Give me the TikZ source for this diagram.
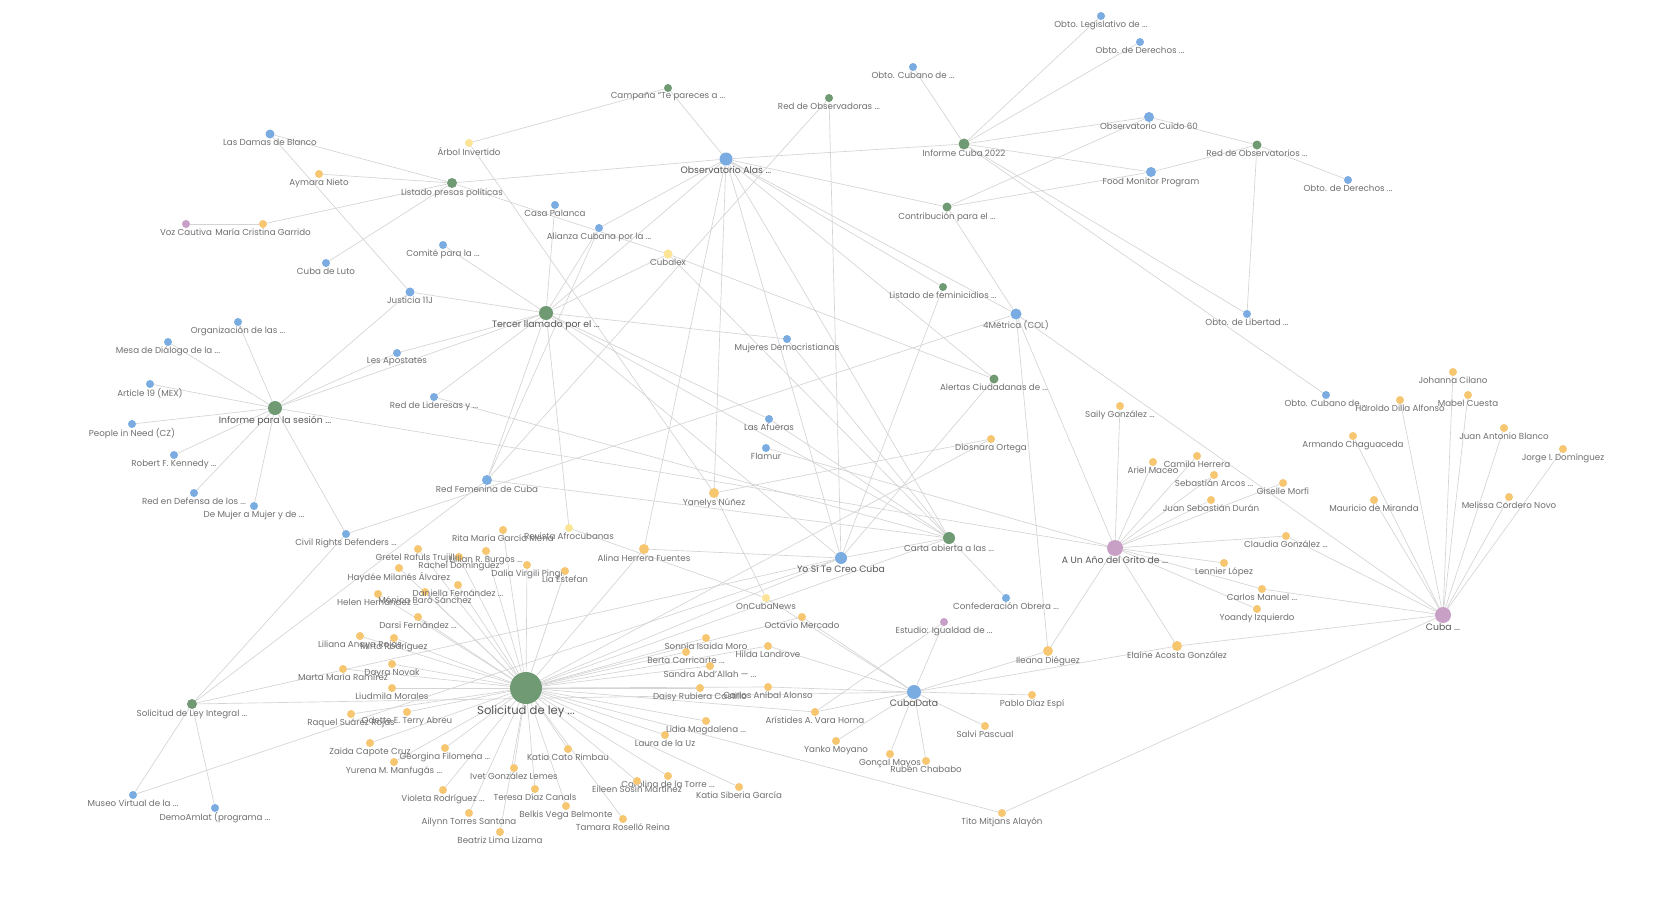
\documentclass[tikz,border=0pt]{standalone}
\usepackage{fontspec}
\setmainfont{Poppins}
\usetikzlibrary{backgrounds}
\definecolor{cblue}{RGB}{122,172,226}
\definecolor{cgreen}{RGB}{112,154,116}
\definecolor{corange}{RGB}{247,198,112}
\definecolor{cyellow}{RGB}{251,228,150}
\definecolor{cpurple}{RGB}{200,160,198}
\definecolor{cedge}{RGB}{212,212,212}
\definecolor{labc}{RGB}{112,112,112}
\definecolor{hlabc}{RGB}{88,88,88}
\newcommand\mynd[6]{\node[#4,minimum size=#5pt,label={[lab]below:{#6}}] (#1) at (#2,#3) {};}
\newcommand\myhub[6]{\node[#4,minimum size=#5pt,label={[hlab]below:{#6}}] (#1) at (#2,#3) {};}
\begin{document}
\begin{tikzpicture}[x=1pt,y=-1pt,
  dot/.style={circle,inner sep=0pt,draw=none},
  bl/.style={dot,fill=cblue}, gr/.style={dot,fill=cgreen}, orn/.style={dot,fill=corange},
  ye/.style={dot,fill=cyellow}, pu/.style={dot,fill=cpurple},
  lab/.style={font=\fontsize{8.7}{9}\selectfont,text=labc,inner sep=0.3pt},
  hlab/.style={font=\fontsize{9.3}{10}\selectfont,text=hlabc,inner sep=0.5pt},
  slab/.style={font=\fontsize{11.6}{12}\selectfont,text=hlabc,inner sep=1pt},
  label distance=0pt,
  edge/.style={draw=cedge,line width=0.65pt}]
\useasboundingbox (0,0) rectangle (1666,907);
% ---------------- top
\mynd{obleg}{1101}{16}{bl}{8}{Obto. Legislativo de ...}
\mynd{obdera}{1140}{42}{bl}{8}{Obto. de Derechos ...}
\mynd{obcuba}{913}{67}{bl}{8}{Obto. Cubano de ...}
\mynd{campana}{668}{88}{gr}{8}{Campaña “Te pareces a ...}
\mynd{redobsd}{829}{98}{gr}{8}{Red de Observadoras ...}
\mynd{arbol}{469}{143}{ye}{8}{Árbol Invertido}
\myhub{alas}{726}{159}{bl}{13}{Observatorio Alas ...}
\mynd{informe}{964}{144}{gr}{11}{Informe Cuba 2022}
\mynd{cuido}{1149}{117}{bl}{10}{Observatorio Cuido 60}
\mynd{redobst}{1257}{145}{gr}{9}{Red de Observatorios ...}
\mynd{food}{1151}{172}{bl}{10}{Food Monitor Program}
\mynd{obderb}{1348}{180}{bl}{8}{Obto. de Derechos ...}
\mynd{contrib}{947}{207}{gr}{9}{Contribución para el ...}
\mynd{damas}{270}{134}{bl}{9}{Las Damas de Blanco}
\mynd{aymara}{319}{174}{orn}{8}{Aymara Nieto}
\mynd{listado}{452}{183}{gr}{10}{Listado presas políticas}
\mynd{voz}{186}{224}{pu}{8}{Voz Cautiva}
\mynd{mcg}{263}{224}{orn}{8}{María Cristina Garrido}
\mynd{casa}{555}{205}{bl}{8}{Casa Palanca}
\mynd{alianza}{599}{228}{bl}{8}{Alianza Cubana por la ...}
\mynd{cubalex}{668}{254}{ye}{9}{Cubalex}
\mynd{comite}{443}{245}{bl}{8}{Comité para la ...}
\mynd{cubaluto}{326}{263}{bl}{8}{Cuba de Luto}
\mynd{justicia}{410}{292}{bl}{9}{Justicia 11J}
\mynd{femin}{943}{287}{gr}{8}{Listado de feminicidios ...}
\myhub{tercer}{546}{313}{gr}{14}{Tercer llamado por el ...}
\mynd{metrica}{1016}{314}{bl}{11}{4Métrica (COL)}
\mynd{oblib}{1247}{314}{bl}{8}{Obto. de Libertad ...}
% ---------------- middle left
\mynd{org}{238}{322}{bl}{8}{Organización de las ...}
\mynd{mesa}{168}{342}{bl}{8}{Mesa de Diálogo de la ...}
\mynd{apostates}{397}{353}{bl}{8}{Les Apostates}
\mynd{mujeres}{787}{339}{bl}{8}{Mujeres Democristianas}
\mynd{alertas}{994}{379}{gr}{9}{Alertas Ciudadanas de ...}
\mynd{art19}{150}{384}{bl}{8}{Article 19 (MEX)}
\myhub{ips}{275}{408}{gr}{14}{Informe para la sesión ...}
\mynd{lideresas}{434}{397}{bl}{8}{Red de Lideresas y ...}
\mynd{pin}{132}{424}{bl}{8}{People in Need (CZ)}
\mynd{rfk}{174}{455}{bl}{8}{Robert F. Kennedy ...}
\mynd{redef}{194}{493}{bl}{8}{Red en Defensa de los ...}
\mynd{demujer}{254}{506}{bl}{8}{De Mujer a Mujer y de ...}
\mynd{crd}{346}{534}{bl}{8}{Civil Rights Defenders ...}
\mynd{afueras}{769}{419}{bl}{8}{Las Afueras}
\mynd{flamur}{766}{448}{bl}{8}{Flamur}
\mynd{redfem}{487}{480}{bl}{10}{Red Femenina de Cuba}
\mynd{yanelys}{714}{493}{orn}{10}{Yanelys Núñez}
% ---------------- middle right
\mynd{diosnara}{991}{439}{orn}{8}{Diosnara Ortega}
\mynd{saily}{1120}{406}{orn}{8}{Saily González ...}
\mynd{obcubb}{1326}{395}{bl}{8}{Obto. Cubano de ...}
\mynd{johanna}{1453}{372}{orn}{8}{Johanna Cilano}
\mynd{haroldo}{1400}{400}{orn}{8}{Haroldo Dilla Alfonso}
\mynd{mabel}{1468}{395}{orn}{8}{Mabel Cuesta}
\mynd{armando}{1353}{436}{orn}{8}{Armando Chaguaceda}
\mynd{jab}{1504}{428}{orn}{8}{Juan Antonio Blanco}
\mynd{jorge}{1563}{449}{orn}{8}{Jorge I. Domínguez}
\mynd{ariel}{1153}{462}{orn}{8}{Ariel Maceo}
\mynd{camila}{1197}{456}{orn}{8}{Camila Herrera}
\mynd{sebastian}{1214}{475}{orn}{8}{Sebastián Arcos ...}
\mynd{jsd}{1211}{500}{orn}{8}{Juan Sebastián Durán}
\mynd{giselle}{1283}{483}{orn}{8}{Giselle Morfi}
\mynd{mauricio}{1374}{500}{orn}{8}{Mauricio de Miranda}
\mynd{melissa}{1509}{497}{orn}{8}{Melissa Cordero Novo}
\mynd{claudia}{1286}{536}{orn}{8}{Claudia González ...}
\mynd{carta}{949}{538}{gr}{12}{Carta abierta a las ...}
\myhub{yosi}{841}{558}{bl}{12}{Yo Sí Te Creo Cuba}
\myhub{grito}{1115}{548}{pu}{16}{A Un Año del Grito de ...}
\mynd{lennier}{1224}{563}{orn}{8}{Lennier López}
\mynd{carlosm}{1262}{589}{orn}{8}{Carlos Manuel ...}
\mynd{yoandy}{1257}{609}{orn}{8}{Yoandy Izquierdo}
\myhub{cuba}{1443}{615}{pu}{16}{Cuba ...}
% ---------------- lower right
\mynd{confed}{1006}{598}{bl}{8}{Confederación Obrera ...}
\mynd{estudio}{944}{622}{pu}{8}{Estudio: Igualdad de ...}
\mynd{ileana}{1048}{651}{orn}{10}{Ileana Diéguez}
\mynd{elaine}{1177}{646}{orn}{10}{Elaine Acosta González}
\myhub{cubadata}{914}{692}{bl}{14}{CubaData}
\mynd{pablo}{1032}{695}{orn}{8}{Pablo Díaz Espí}
\mynd{salvi}{985}{726}{orn}{8}{Salvi Pascual}
\mynd{goncal}{890}{754}{orn}{8}{Gonçal Mayos}
\mynd{ruben}{926}{761}{orn}{8}{Rubén Chababo}
\mynd{tito}{1002}{813}{orn}{8}{Tito Mitjans Alayón}
% ---------------- lower middle
\mynd{oncuba}{766}{598}{ye}{8}{OnCubaNews}
\mynd{octavio}{802}{617}{orn}{8}{Octavio Mercado}
\mynd{sonnia}{706}{638}{orn}{8}{Sonnia Isaida Moro}
\mynd{hilda}{768}{646}{orn}{8}{Hilda Landrove}
\mynd{berta}{686}{652}{orn}{8}{Berta Carricarte ...}
\mynd{sandra}{710}{666}{orn}{8}{Sandra Abd’Allah — ...}
\mynd{daisy}{700}{688}{orn}{8}{Daisy Rubiera Castillo}
\mynd{anibal}{768}{687}{orn}{8}{Carlos Aníbal Alonso}
\mynd{aristides}{815}{712}{orn}{8}{Arístides A. Vara Horna}
\mynd{yanko}{836}{741}{orn}{8}{Yanko Moyano}
\mynd{lidia}{706}{721}{orn}{8}{Lidia Magdalena ...}
\mynd{laura}{665}{735}{orn}{8}{Laura de la Uz}
\mynd{katiasib}{739}{787}{orn}{8}{Katia Siberia García}
\mynd{carolina}{668}{776}{orn}{8}{Carolina de la Torre ...}
\mynd{eileen}{637}{781}{orn}{8}{Eileen Sosin Martínez}
\mynd{tamara}{623}{819}{orn}{8}{Tamara Roselló Reina}
\mynd{katiacato}{568}{749}{orn}{8}{Katia Cato Rimbau}
\mynd{belkis}{566}{806}{orn}{8}{Belkis Vega Belmonte}
\mynd{teresa}{535}{789}{orn}{8}{Teresa Díaz Canals}
\mynd{ivet}{514}{768}{orn}{8}{Ivet González Lemes}
\mynd{beatriz}{500}{832}{orn}{8}{Beatriz Lima Lizama}
\mynd{ailynn}{469}{813}{orn}{8}{Ailynn Torres Santana}
\mynd{violeta}{443}{790}{orn}{8}{Violeta Rodríguez ...}
\mynd{georgina}{445}{748}{orn}{8}{Georgina Filomena ...}
\mynd{yurena}{394}{762}{orn}{8}{Yurena M. Manfugás ...}
\mynd{zaida}{370}{743}{orn}{8}{Zaida Capote Cruz}
\mynd{raquel}{351}{714}{orn}{8}{Raquel Suárez Rojas}
\mynd{terry}{407}{712}{orn}{8}{Odette E. Terry Abreu}
\mynd{liudmila}{392}{688}{orn}{8}{Liudmila Morales}
\mynd{marta}{343}{669}{orn}{8}{Marta María Ramírez}
\mynd{novak}{392}{664}{orn}{8}{Dayra Novak}
\mynd{liliana}{360}{636}{orn}{8}{Liliana Anaya Rojas}
\mynd{mirta}{394}{638}{orn}{8}{Mirta Rodríguez}
\mynd{darsi}{418}{617}{orn}{8}{Darsi Fernández ...}
\mynd{helen}{378}{594}{orn}{8}{Helen Hernández ...}
\mynd{monica}{425}{592}{orn}{8}{Mónica Baró Sánchez}
\mynd{daniella}{458}{585}{orn}{8}{Daniella Fernández ...}
\mynd{haydee}{399}{568}{orn}{8}{Haydée Milanés Álvarez}
\mynd{gretel}{418}{549}{orn}{8}{Gretel Rafuls Trujillo}
\mynd{rachel}{459}{557}{orn}{8}{Rachel Domínguez}
\mynd{lillian}{486}{551}{orn}{8}{Lillian R. Burgos ...}
\mynd{rita}{503}{530}{orn}{8}{Rita María García Mena}
\mynd{dalia}{527}{565}{orn}{8}{Dalia Virgili Pingi}
\mynd{lia}{565}{571}{orn}{8}{Lía Estefan}
\mynd{revista}{569}{528}{ye}{8}{Revista Afrocubanas}
\mynd{alina}{644}{549}{orn}{10}{Alina Herrera Fuentes}
\node[gr,minimum size=32pt,label={[slab]below:{Solicitud de ley ...}}] (sl) at (526,688) {};
\mynd{sli}{192}{704}{gr}{10}{Solicitud de Ley Integral ...}
\mynd{museo}{133}{795}{bl}{8}{Museo Virtual de la ...}
\mynd{demoamlat}{215}{808}{bl}{8}{DemoAmlat (programa ...}
% ---------------- edges
\begin{pgfonlayer}{background}
\fill[white] (0,0) rectangle (1666,907);
\foreach \a/\b in {listado/damas,listado/aymara,listado/mcg,listado/cubaluto,listado/alas,listado/cubalex,
 voz/mcg,damas/justicia,campana/arbol,campana/alas,arbol/yanelys,
 alas/informe,alas/contrib,alas/alianza,alas/tercer,alas/yanelys,alas/alina,alas/carta,alas/yosi,alas/alertas,alas/metrica,alas/femin,
 informe/obcuba,informe/obleg,informe/obdera,informe/cuido,informe/food,informe/obcubb,informe/oblib,
 contrib/cuido,contrib/food,contrib/metrica,food/redobst,cuido/redobst,redobst/obderb,redobst/oblib,
 redobsd/yosi,redobsd/redfem,cubalex/alertas,cubalex/tercer,cubalex/carta,
 tercer/comite,tercer/justicia,tercer/apostates,tercer/lideresas,tercer/ips,tercer/casa,tercer/redfem,tercer/revista,
 tercer/mujeres,tercer/afueras,tercer/carta,tercer/yosi,tercer/alianza,
 ips/org,ips/mesa,ips/art19,ips/pin,ips/rfk,ips/redef,ips/demujer,ips/crd,ips/justicia,ips/apostates,ips/grito,
 lideresas/carta,crd/sli,crd/metrica,alianza/redfem,
 sli/museo,sli/demoamlat,sli/redfem,sli/yosi,sli/cubadata,museo/yosi,
 yanelys/diosnara,yanelys/oncuba,oncuba/cubadata,revista/oncuba,alina/yosi,redfem/carta,
 cubadata/pablo,cubadata/salvi,cubadata/goncal,cubadata/ruben,cubadata/yanko,cubadata/aristides,cubadata/ileana,
 cubadata/estudio,cubadata/hilda,cubadata/octavio,cubadata/anibal,cubadata/elaine,estudio/aristides,
 carta/confed,carta/yosi,carta/mujeres,carta/afueras,alertas/yosi,femin/yosi,flamur/grito,
 grito/saily,grito/ariel,grito/camila,grito/sebastian,grito/jsd,grito/giselle,grito/claudia,grito/lennier,grito/carlosm,
 grito/yoandy,grito/metrica,grito/ileana,grito/elaine,metrica/ileana,metrica/cuba,
 cuba/johanna,cuba/haroldo,cuba/mabel,cuba/armando,cuba/jab,cuba/jorge,cuba/mauricio,cuba/melissa,cuba/claudia,
 cuba/carlosm,cuba/elaine,cuba/tito,
 sl/gretel,sl/rachel,sl/haydee,sl/lillian,sl/rita,sl/dalia,sl/lia,sl/daniella,sl/helen,sl/monica,sl/darsi,sl/liliana,
 sl/mirta,sl/marta,sl/novak,sl/liudmila,sl/raquel,sl/terry,sl/zaida,sl/yurena,sl/georgina,sl/violeta,sl/ailynn,
 sl/beatriz,sl/ivet,sl/teresa,sl/belkis,sl/tamara,sl/katiacato,sl/eileen,sl/carolina,sl/katiasib,sl/laura,sl/lidia,
 sl/daisy,sl/anibal,sl/sandra,sl/berta,sl/sonnia,sl/hilda,sl/octavio,sl/aristides,sl/alina,sl/yosi,sl/carta,
 sl/diosnara,sl/tito}
 \draw[edge] (\a) -- (\b);
\end{pgfonlayer}
\end{tikzpicture}
\end{document}
